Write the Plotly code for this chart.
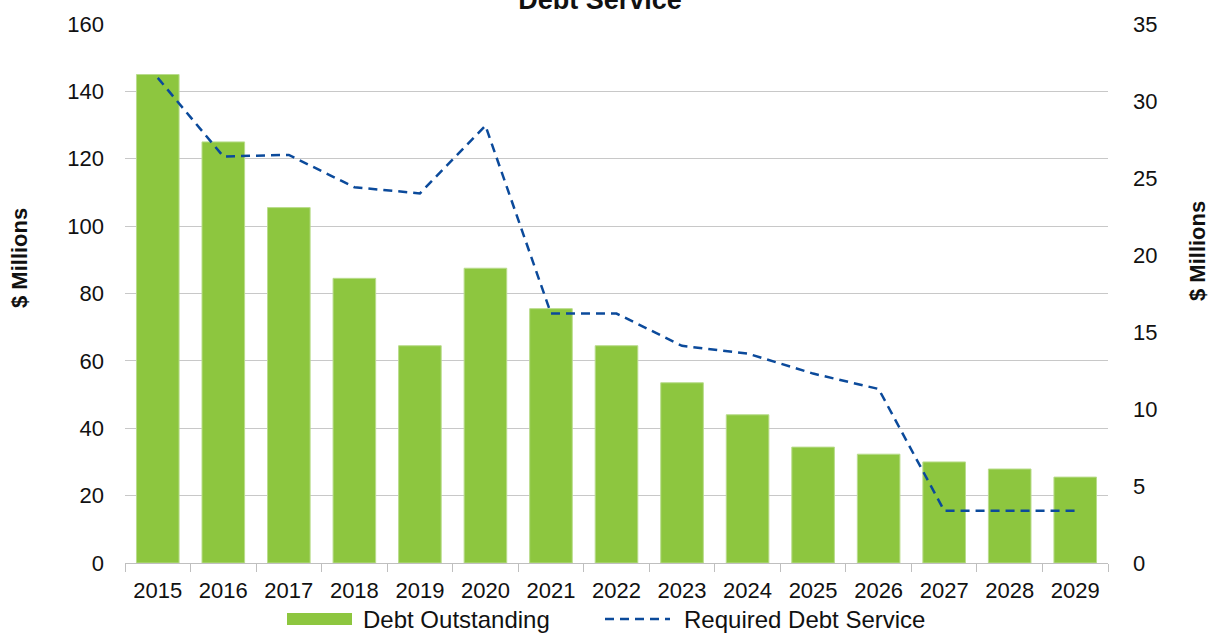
import plotly.graph_objects as go

years = ["2015", "2016", "2017", "2018", "2019", "2020", "2021", "2022",
         "2023", "2024", "2025", "2026", "2027", "2028", "2029"]
debt_outstanding = [145, 125, 105.5, 84.5, 64.5, 87.5, 75.5, 64.5,
                    53.5, 44, 34.4, 32.3, 30, 27.9, 25.5]
required_debt_service = [31.5, 26.4, 26.5, 24.4, 24.0, 28.4, 16.2, 16.2,
                         14.1, 13.6, 12.3, 11.3, 3.4, 3.4, 3.4]

left_ticks = [0, 20, 40, 60, 80, 100, 120, 140, 160]
right_ticks = [0, 5, 10, 15, 20, 25, 30, 35]

FONT = "Liberation Sans"
GREEN = "#8dc63f"
BLUE = "#0b4a9b"
DASH = "9px,6px"

W, H = 1214, 633
ML, MR, MT, MB = 125, 106, 24, 70
PW, PH = W - ML - MR, H - MT - MB


def px(x):
    return (x - ML) / PW


def py(y):
    return (H - MB - y) / PH


fig = go.Figure()
fig.add_trace(go.Bar(
    x=years, y=debt_outstanding, name="Debt Outstanding",
    marker=dict(color=GREEN, line=dict(color="#b9dc8c", width=1)),
    width=0.65, showlegend=False,
))
fig.add_trace(go.Scatter(
    x=years, y=required_debt_service, name="Required Debt Service",
    yaxis="y2", mode="lines", showlegend=False,
    line=dict(color=BLUE, width=2.5, dash=DASH),
))

# legend drawn below the category axis
legend_y = py(619)
shapes = [
    dict(type="rect", xref="paper", yref="paper",
         x0=px(287), x1=px(352), y0=py(625), y1=py(613),
         fillcolor=GREEN, line=dict(width=0)),
    dict(type="line", xref="paper", yref="paper",
         x0=px(605), x1=px(670), y0=legend_y, y1=legend_y,
         line=dict(color=BLUE, width=2.5, dash=DASH)),
]
text_font = dict(family=FONT, size=24, color="#111")
title_font = dict(family=FONT, size=22, color="#111")
annotations = [
    dict(text="Debt Outstanding", xref="paper", yref="paper",
         x=px(361), y=legend_y, xanchor="left", yanchor="middle",
         showarrow=False, font=text_font),
    dict(text="Required Debt Service", xref="paper", yref="paper",
         x=px(682), y=legend_y, xanchor="left", yanchor="middle",
         showarrow=False, font=text_font),
    # axis titles
    dict(text="<b>$ Millions</b>", xref="paper", yref="paper",
         x=px(19), y=py(258), xanchor="center", yanchor="middle",
         textangle=-90, showarrow=False, font=title_font),
    dict(text="<b>$ Millions</b>", xref="paper", yref="paper",
         x=px(1197), y=py(251), xanchor="center", yanchor="middle",
         textangle=-90, showarrow=False, font=title_font),
]

fig.update_layout(
    width=W, height=H,
    margin=dict(l=ML, r=MR, t=MT, b=MB, autoexpand=False),
    plot_bgcolor="white", paper_bgcolor="white",
    title=dict(text="<b>Debt Service</b>", x=600 / W, xanchor="center",
               yref="container", y=1.0, yanchor="middle",
               font=dict(family=FONT, size=27, color="#111")),
    xaxis=dict(
        type="category", showgrid=False,
        showline=True, linecolor="#bfbfbf", linewidth=1,
        ticks="outside", tickson="boundaries", ticklen=8, tickcolor="#bfbfbf",
        ticklabelstandoff=8,
        tickfont=dict(family=FONT, size=22, color="#111"),
    ),
    yaxis=dict(
        range=[0, 160], tickvals=left_ticks,
        showgrid=True, gridcolor="#c8c8c8", gridwidth=1,
        zeroline=False, showline=False,
        ticks="", ticklabelstandoff=20,
        tickfont=dict(family=FONT, size=22, color="#111"),
    ),
    yaxis2=dict(
        range=[0, 35], tickvals=right_ticks, overlaying="y", side="right",
        showgrid=False, zeroline=False, showline=False,
        ticks="", ticklabelstandoff=24,
        tickfont=dict(family=FONT, size=22, color="#111"),
    ),
    shapes=shapes,
    annotations=annotations,
    bargap=0.35,
)

fig.write_html("out.html")
